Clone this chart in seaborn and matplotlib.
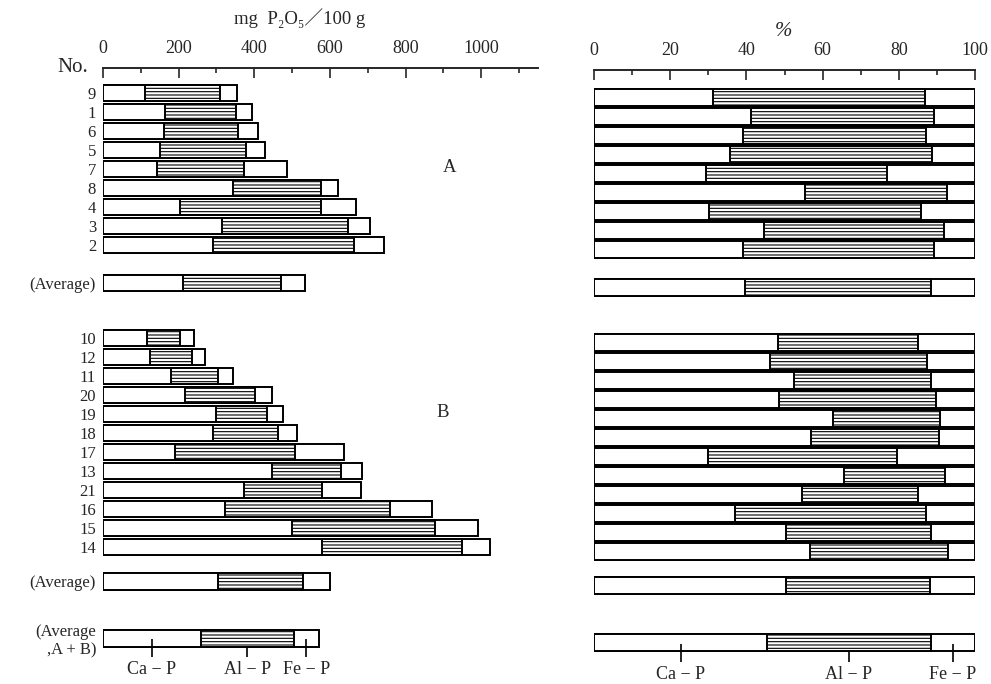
import numpy as np
import pandas as pd
import matplotlib
matplotlib.use("Agg")
import matplotlib.pyplot as plt
import seaborn as sns

# row labels, top to bottom (group A, its average, group B, its average, overall)
labels = ["9", "1", "6", "5", "7", "8", "4", "3", "2", "(Average)",
          "10", "12", "11", "20", "19", "18", "17", "13", "21", "16", "15", "14",
          "(Average)", "(Average\n,A + B)"]

# P fractions, mg P2O5 / 100 g
ca_p = [111, 163, 160, 152, 143, 344, 203, 315, 291, 211,
        116, 124, 180, 218, 299, 292, 191, 448, 372, 323, 500, 579,
        303, 259]
al_p = [197, 189, 197, 227, 231, 231, 372, 333, 372, 260,
        88, 111, 123, 184, 134, 171, 316, 182, 208, 435, 377, 371,
        227, 245]
fe_p = [46, 43, 53, 48, 112, 46, 95, 57, 80, 62,
        36, 34, 40, 46, 44, 49, 131, 54, 103, 112, 114, 72,
        71, 66]

legend_names = ["Ca − P", "Al − P", "Fe − P"]

# vertical layout of the rows (row units, 0 = first row)
row_pos = (list(range(9)) + [10.0] + [12.9 + i for i in range(12)] + [25.7, 28.7])

sns.set_style("white")
plt.rcParams["font.family"] = ["Liberation Serif", "DejaVu Serif", "Noto Sans CJK JP"]
plt.rcParams["hatch.linewidth"] = 0.8

df = pd.DataFrame({"label": labels, "pos": row_pos, "ca": ca_p, "al": al_p, "fe": fe_p})
df["total"] = df.ca + df.al + df.fe

pct = df[["label", "pos"]].copy()
pct["ca"] = df.ca / df.total * 100
pct["al"] = df.al / df.total * 100
pct["fe"] = df.fe / df.total * 100
pct["total"] = pct.ca + pct.al + pct.fe

W, H = 991, 684
fig = plt.figure(figsize=(W / 100, H / 100), dpi=100)

ROW_PX = 19


def add_axes(x0, x1, first_row_px, top_px, ybottom):
    ytop = (top_px - first_row_px) / ROW_PX
    bottom_px = first_row_px + ybottom * ROW_PX
    ax = fig.add_axes([x0 / W, 1 - bottom_px / H, (x1 - x0) / W, (bottom_px - top_px) / H])
    return ax, (ybottom, ytop)


def draw_stack(ax, d):
    d = d.assign(ca_al=d.ca + d.al)
    for col, hatch in [("total", ""), ("ca_al", "-----"), ("ca", "")]:
        sns.barplot(data=d, x=col, y="pos", orient="h", native_scale=True,
                    color="white", saturation=1, edgecolor="black", linewidth=1.4,
                    hatch=hatch, width=0.88, errorbar=None, ax=ax)
    # little marker ticks under the overall-average bar
    last = d.iloc[-1]
    mids = [last.ca / 2, last.ca + last.al / 2, last.ca + last.al + last.fe / 2]
    tops = [last.pos + 0.05, last.pos + 0.5, last.pos + 0.05]
    for m, t, name in zip(mids, tops, legend_names):
        ax.vlines(m, t, last.pos + 1.0, color="black", lw=1.2, clip_on=False)
        ax.text(m, last.pos + 1.65, name, ha="center", va="center", fontsize=13,
                clip_on=False)
    ax.set_xlabel("")
    ax.set_ylabel("")
    sns.despine(ax=ax, top=False, left=True, bottom=True, right=True)
    ax.spines["top"].set_linewidth(1.4)
    ax.xaxis.tick_top()
    ax.tick_params(axis="x", which="both", direction="in", top=True, bottom=False,
                   labeltop=True, labelbottom=False, width=1.2, labelsize=13, pad=8)
    ax.tick_params(axis="x", which="major", length=7)
    ax.tick_params(axis="x", which="minor", length=3.5)


# left panel: absolute amounts
axl, ylim_l = add_axes(103, 538, 93, 68, 30.8)
draw_stack(axl, df)
axl.set_xlim(0, 1150)
axl.set_xticks(np.arange(0, 1001, 200))
axl.set_xticks(np.arange(100, 1101, 200), minor=True)
axl.set_ylim(*ylim_l)
axl.set_yticks(row_pos, labels)
axl.tick_params(axis="y", length=0, pad=5, labelsize=12)

# right panel: percentages
axr, ylim_r = add_axes(594, 975, 97.5, 70, 30.8)
draw_stack(axr, pct)
axr.set_xlim(0, 100)
axr.set_xticks(np.arange(0, 101, 20))
axr.set_xticks(np.arange(10, 100, 20), minor=True)
axr.set_ylim(*ylim_r)
axr.set_yticks([])

fig.text(300 / W, 1 - 18 / H, "mg  P₂O₅／100 g", ha="center", va="center", fontsize=13.5)
fig.text(88 / W, 1 - 67 / H, "No.", ha="right", va="center", fontsize=15)
fig.text(783 / W, 1 - 32 / H, "%", ha="center", va="center", fontsize=15, style="italic")
fig.text(450 / W, 1 - 167 / H, "A", ha="center", va="center", fontsize=13.5)
fig.text(443 / W, 1 - 413 / H, "B", ha="center", va="center", fontsize=13.5)

fig.savefig("out.png", dpi=100)
